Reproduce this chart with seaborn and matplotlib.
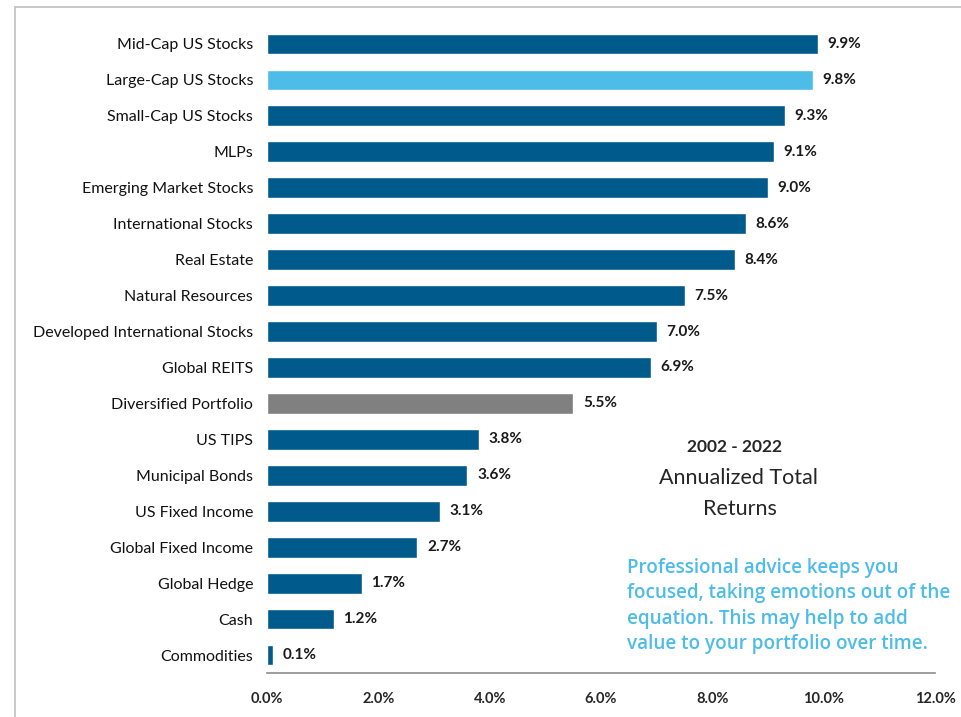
import numpy as np
import pandas as pd
import matplotlib
matplotlib.use("Agg")
import matplotlib.pyplot as plt
from matplotlib.lines import Line2D
import seaborn as sns

# ── data ───────────────────────────────────────────────
categories = [
    "Mid-Cap US Stocks", "Large-Cap US Stocks", "Small-Cap US Stocks", "MLPs",
    "Emerging Market Stocks", "International Stocks", "Real Estate",
    "Natural Resources", "Developed International Stocks", "Global REITS",
    "Diversified Portfolio", "US TIPS", "Municipal Bonds", "US Fixed Income",
    "Global Fixed Income", "Global Hedge", "Cash", "Commodities",
]
returns = [9.9, 9.8, 9.3, 9.1, 9.0, 8.6, 8.4, 7.5, 7.0, 6.9,
           5.5, 3.8, 3.6, 3.1, 2.7, 1.7, 1.2, 0.1]
x_ticks = [0, 2, 4, 6, 8, 10, 12]

DARK = "#005A8C"
LIGHT = "#4DBCE9"
GRAY = "#808080"
colors = [LIGHT if c == "Large-Cap US Stocks" else GRAY if c == "Diversified Portfolio" else DARK
          for c in categories]

df = pd.DataFrame({"category": categories, "ret": returns})

sns.set_theme(style="white")
plt.rcParams["font.family"] = ["Lato", "DejaVu Sans"]

fig = plt.figure(figsize=(9.62, 7.17), dpi=100)
ax = fig.add_axes([0.2775, 0.0614, 0.972 - 0.2775, 0.9637 - 0.0614])

sns.barplot(data=df, x="ret", y="category", hue="category",
            palette=dict(zip(categories, colors)), legend=False,
            width=0.58, saturation=1, ax=ax)

for cont in ax.containers:
    ax.bar_label(cont, labels=[f"{v:.1f}%" for v in cont.datavalues],
                 padding=7, fontsize=11, fontweight="bold", color="#1a1a1a")

ax.set_xlim(0, 12)
ax.set_ylim(17.5, -0.5)
ax.set_xticks(x_ticks)
ax.set_xticklabels([f"{t:.1f}%" for t in x_ticks], fontsize=10.5, fontweight="bold")
ax.tick_params(axis="x", length=0, pad=14)
ax.tick_params(axis="y", length=0, pad=10, labelsize=11.5, labelcolor="#111111")
ax.set_xlabel("")
ax.set_ylabel("")
for s in ["top", "right", "left"]:
    ax.spines[s].set_visible(False)
ax.spines["bottom"].set_color("#8c8c8c")
ax.spines["bottom"].set_linewidth(1.2)

# annotation text
fig.text(735 / 962, 1 - 447 / 717, "2002 - 2022", ha="center", va="center",
         fontsize=12.5, fontweight="bold")
fig.text(738 / 962, 1 - 478 / 717, "Annualized Total", ha="center", va="center",
         fontsize=15.5)
fig.text(740 / 962, 1 - 509 / 717, "Returns", ha="center", va="center",
         fontsize=15.5)
blue_lines = ["Professional advice keeps you",
              "focused, taking emotions out of the",
              "equation. This may help to add",
              "value to your portfolio over time."]
for i, line in enumerate(blue_lines):
    fig.text(627 / 962, 1 - (568 + 25.3 * i) / 717, line, ha="left", va="center",
             fontsize=13.6, fontweight="semibold", color=LIGHT,
             family=["Open Sans", "DejaVu Sans"])

# frame lines (top and left)
fig.add_artist(Line2D([15 / 962, 1], [1 - 7 / 717, 1 - 7 / 717],
                      transform=fig.transFigure, color="#bfbfbf", lw=1.2))
fig.add_artist(Line2D([15 / 962, 15 / 962], [0, 1 - 7 / 717],
                      transform=fig.transFigure, color="#bfbfbf", lw=1.2))

fig.savefig("out.png", dpi=100)
